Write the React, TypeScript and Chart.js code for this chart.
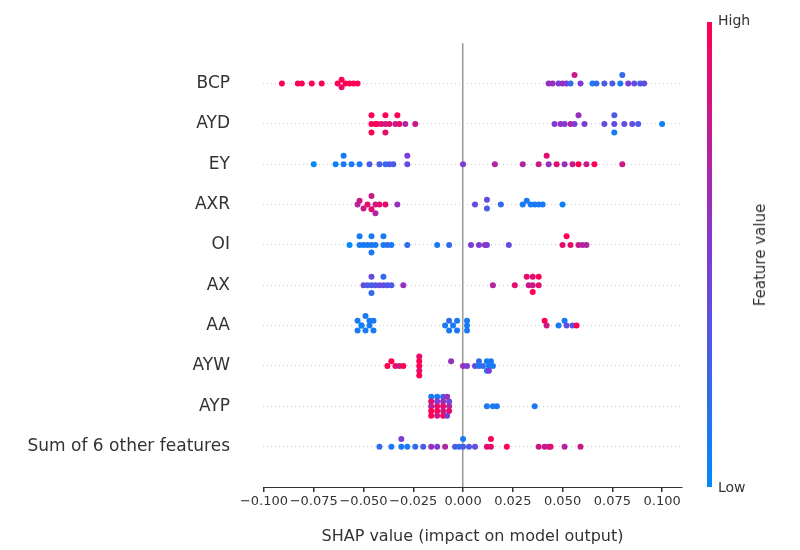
import React, { useEffect, useRef } from "react";
import { Chart, registerables } from "chart.js";

Chart.register(...registerables);

const features = ["BCP", "AYD", "EY", "AXR", "OI", "AX", "AA", "AYW", "AYP", "Sum of 6 other features"];

// each point: [shap value, feature value 0(low)..1(high), vertical offset in px]
const bcp = [
  [-0.091, 1, 0], [-0.083, 1, 0], [-0.081, 1, 0], [-0.076, 1, 0], [-0.071, 1, 0], [-0.063, 1, 0],
  [-0.061, 1, -4], [-0.059, 1, 0], [-0.057, 1, 0], [-0.055, 1, 0], [-0.053, 1, 0], [-0.061, 0.9, 4],
  [0.043, 0.6, 0], [0.045, 0.6, 0], [0.048, 0.5, 0], [0.05, 0.6, 0], [0.052, 0.5, 0], [0.054, 0.2, 0],
  [0.056, 0.8, -9], [0.059, 0.5, 0], [0.065, 0.1, 0], [0.067, 0.2, 0], [0.071, 0.3, 0], [0.075, 0.3, 0],
  [0.079, 0.1, 0], [0.08, 0.2, -9], [0.083, 0.5, 0], [0.086, 0.4, 0], [0.089, 0.3, 0], [0.091, 0.4, 0],
];
const ayd = [
  [-0.046, 1, 0], [-0.044, 0.9, 0], [-0.043, 1, 0], [-0.041, 0.9, 0], [-0.039, 0.8, 0], [-0.037, 0.9, 0],
  [-0.034, 0.8, 0], [-0.032, 0.9, 0], [-0.029, 0.7, 0], [-0.024, 0.8, 0], [-0.046, 1, -9], [-0.039, 1, -9],
  [-0.033, 1, -9], [-0.046, 1, 9], [-0.039, 0.9, 9],
  [0.046, 0.5, 0], [0.049, 0.6, 0], [0.051, 0.5, 0], [0.054, 0.7, 0], [0.056, 0.5, 0], [0.058, 0.6, -9],
  [0.061, 0.5, 0], [0.071, 0.4, 0], [0.076, 0.3, -9], [0.076, 0.1, 9], [0.076, 0.4, 0], [0.081, 0.4, 0],
  [0.085, 0.4, 0], [0.088, 0.3, 0], [0.1, 0.05, 0],
];
const ey = [
  [-0.075, 0, 0], [-0.064, 0.05, 0], [-0.06, 0.1, -9], [-0.06, 0.1, 0], [-0.056, 0.1, 0], [-0.052, 0.1, 0],
  [-0.047, 0.3, 0], [-0.042, 0.3, 0], [-0.039, 0.2, 0], [-0.037, 0.3, 0], [-0.035, 0.3, 0], [-0.028, 0.5, -9],
  [-0.028, 0.4, 0], [0.0, 0.5, 0], [0.016, 0.7, 0], [0.03, 0.7, 0], [0.038, 0.8, 0], [0.042, 0.9, -9],
  [0.043, 0.6, 0], [0.047, 0.9, 0], [0.051, 0.6, 0], [0.055, 0.8, 0], [0.058, 1, 0], [0.062, 0.8, 0],
  [0.066, 1, 0], [0.08, 0.8, 0],
];
const axr = [
  [-0.053, 0.7, 0], [-0.052, 0.8, -4], [-0.05, 0.8, 4], [-0.048, 0.9, 0], [-0.046, 0.8, -9], [-0.046, 0.9, 5],
  [-0.044, 0.8, 0], [-0.044, 0.7, 9], [-0.042, 0.9, 0], [-0.039, 0.9, 0], [-0.033, 0.6, 0],
  [0.006, 0.4, 0], [0.012, 0.4, -5], [0.012, 0.3, 4], [0.019, 0.2, 0], [0.03, 0.1, 0], [0.032, 0.1, -4],
  [0.034, 0.1, 0], [0.036, 0.1, 0], [0.038, 0.1, 0], [0.04, 0.1, 0], [0.05, 0.05, 0],
];
const oi = [
  [-0.057, 0, 0], [-0.052, 0.1, -9], [-0.052, 0.1, 0], [-0.05, 0.1, 0], [-0.048, 0.1, 0], [-0.046, 0.1, -9],
  [-0.046, 0.1, 8], [-0.046, 0.1, 0], [-0.044, 0.1, 0], [-0.04, 0.1, -9], [-0.04, 0.1, 0], [-0.038, 0.2, 0],
  [-0.036, 0.1, 0], [-0.028, 0.2, 0], [-0.013, 0.1, 0], [-0.007, 0.2, 0], [0.004, 0.5, 0], [0.008, 0.5, 0],
  [0.011, 0.6, 0], [0.012, 0.5, 0], [0.023, 0.4, 0], [0.05, 0.9, 0], [0.052, 1, -9], [0.054, 0.9, 0],
  [0.058, 0.8, 0], [0.06, 0.7, 0], [0.062, 0.7, 0],
];
const ax = [
  [-0.05, 0.4, 0], [-0.048, 0.3, 0], [-0.046, 0.4, -9], [-0.046, 0.3, 0], [-0.046, 0.2, 8], [-0.044, 0.3, 0],
  [-0.042, 0.4, 0], [-0.04, 0.4, 0], [-0.04, 0.2, -9], [-0.038, 0.3, 0], [-0.036, 0.3, 0], [-0.03, 0.6, 0],
  [0.015, 0.7, 0], [0.026, 0.9, 0], [0.032, 0.9, -9], [0.033, 0.8, 0], [0.035, 0.9, -9], [0.035, 0.8, 0],
  [0.035, 1, 7], [0.038, 0.9, 0], [0.038, 1, -9],
];
const aa = [
  [-0.053, 0.1, -5], [-0.051, 0.1, 0], [-0.053, 0.1, 5], [-0.049, 0.1, -10], [-0.049, 0.1, 5], [-0.047, 0.1, 0],
  [-0.047, 0.1, -5], [-0.045, 0.1, 5], [-0.045, 0.1, -5], [-0.051, 0.05, 0],
  [-0.009, 0.1, 0], [-0.007, 0.2, -5], [-0.007, 0.1, 5], [-0.005, 0.1, 0], [-0.003, 0.1, -5], [-0.003, 0.1, 5],
  [0.002, 0.1, -5], [0.002, 0.1, 5], [0.002, 0.1, 0],
  [0.041, 1, -5], [0.042, 0.8, 0], [0.048, 0.1, 0], [0.051, 0.1, -5], [0.052, 0.4, 0], [0.055, 0.3, 0],
  [0.057, 1, 0],
];
const ayw = [
  [-0.038, 1, 0], [-0.036, 1, -5], [-0.034, 0.9, 0], [-0.032, 0.8, 0], [-0.03, 1, 0], [-0.022, 0.9, -10],
  [-0.022, 1, -5], [-0.022, 1, 0], [-0.022, 0.9, 5], [-0.022, 1, 10], [-0.006, 0.6, -5], [0.0, 0.6, 0],
  [0.002, 0.5, 0], [0.006, 0.4, 0], [0.008, 0.2, -5], [0.008, 0.1, 0], [0.01, 0.2, 0], [0.012, 0.1, -5],
  [0.012, 0.1, 5], [0.013, 0.1, 0], [0.013, 0.5, 5], [0.014, 0.1, -5], [0.015, 0.1, 0],
];
const ayp = [
  [-0.016, 0.1, -10], [-0.016, 0.9, -5], [-0.016, 0.7, 0], [-0.016, 1, 5], [-0.016, 1, 10],
  [-0.013, 0.1, -10], [-0.013, 0.5, -5], [-0.013, 0.9, 0], [-0.013, 1, 5], [-0.013, 0.8, 10],
  [-0.01, 0.3, -10], [-0.01, 0.6, -5], [-0.01, 0.9, 0], [-0.01, 0.8, 5], [-0.01, 1, 10],
  [-0.007, 0.4, -5], [-0.007, 0.7, 0], [-0.007, 0.9, 5], [-0.008, 0.5, 10], [-0.008, 0.6, -10],
  [0.012, 0.1, 0], [0.015, 0.1, 0], [0.017, 0.1, 0], [0.036, 0.1, 0],
];
const sum6 = [
  [-0.042, 0.2, 0], [-0.036, 0.1, 0], [-0.031, 0.5, -8], [-0.031, 0.1, 0], [-0.028, 0.1, 0], [-0.024, 0.2, 0],
  [-0.02, 0.3, 0], [-0.016, 0.6, 0], [-0.013, 0.5, 0], [-0.009, 0.7, 0], [-0.004, 0.3, 0], [-0.002, 0.2, 0],
  [0.0, 0.1, -8], [0.0, 0.3, 0], [0.003, 0.3, 0], [0.006, 0.4, 0], [0.012, 0.9, 0], [0.014, 1, -8],
  [0.014, 0.9, 0], [0.022, 1, 0], [0.038, 0.8, 0], [0.041, 0.8, 0], [0.043, 0.7, 0], [0.044, 0.9, 0],
  [0.051, 0.7, 0], [0.059, 0.8, 0],
];
const rows = [bcp, ayd, ey, axr, oi, ax, aa, ayw, ayp, sum6];

const xTicks = [-0.1, -0.075, -0.05, -0.025, 0, 0.025, 0.05, 0.075, 0.1];

const rowPx = 42.3;

function colorFor(v: number) {
  // blue -> purple -> red
  const stops = [
    [0, 138, 250],
    [125, 60, 215],
    [255, 0, 82],
  ];
  const t = Math.max(0, Math.min(1, v)) * 2;
  const i = Math.min(1, Math.floor(t));
  const f = t - i;
  const a = stops[i], b = stops[i + 1];
  const c = a.map((x, k) => Math.round(x + (b[k] - x) * f));
  return `rgb(${c[0]},${c[1]},${c[2]})`;
}

const font = "'DejaVu Sans', sans-serif";

export default function App() {
  const canvasRef = useRef<HTMLCanvasElement>(null);
  const chartRef = useRef<Chart | null>(null);

  useEffect(() => {
    if (!canvasRef.current) return;
    const datasets = rows.map((pts, r) => ({
      data: pts.map((p) => ({ x: p[0], y: r + p[2] / rowPx })),
      pointBackgroundColor: pts.map((p) => colorFor(p[1])),
      pointBorderWidth: 0,
      pointRadius: 3,
      showLine: false,
    }));
    if (chartRef.current) chartRef.current.destroy();
    chartRef.current = new Chart(canvasRef.current, {
      type: "scatter",
      data: { datasets },
      options: {
        animation: false,
        responsive: false,
        layout: { padding: { top: 2, right: 118, left: 0, bottom: 0 } },
        plugins: { legend: { display: false }, tooltip: { enabled: false } },
        scales: {
          x: {
            min: -0.1005,
            max: 0.11,
            afterBuildTicks: (s: any) => {
              s.ticks = xTicks.map((v) => ({ value: v }));
            },
            afterFit: (s: any) => {
              s.height = 63;
            },
            grid: {
              color: (c: any) => (c.tick && c.tick.value === 0 ? "#999" : "rgba(0,0,0,0)"),
              lineWidth: 1.5,
              tickColor: "#333",
              tickLength: 5,
            },
            border: { display: true, color: "#333", width: 1 },
            ticks: {
              color: "#333",
              font: { family: font, size: 13 },
              padding: 2,
              maxRotation: 0,
              minRotation: 0,
              autoSkip: false,
              callback: (v: any) => (Number(v) < 0 ? "\u2212" : "") + Math.abs(Number(v)).toFixed(3),
            },
            title: {
              display: true,
              text: "SHAP value (impact on model output)",
              color: "#333",
              font: { family: font, size: 16 },
              padding: { top: 4 },
            },
          },
          y: {
            min: -1,
            max: 10,
            reverse: true,
            afterFit: (s: any) => {
              s.width = 263;
            },
            afterBuildTicks: (s: any) => {
              s.ticks = features.map((_, i) => ({ value: i }));
            },
            grid: {
              color: "#ccc",
              lineWidth: 1,
              drawTicks: false,
            },
            border: { display: false, dash: [1, 3] },
            ticks: {
              color: "#333",
              font: { family: font, size: 17 },
              padding: 33,
              callback: (v: any) => features[Number(v)] ?? "",
            },
          },
        },
      },
    });
    return () => {
      chartRef.current?.destroy();
      chartRef.current = null;
    };
  }, []);

  return (
    <div style={{ position: "absolute", left: 0, top: 0, width: 800, height: 550, background: "#fff", fontFamily: font }}>
      <canvas ref={canvasRef} width={800} height={550} style={{ position: "absolute", left: 0, top: 0 }} />
      <div
        style={{
          position: "absolute",
          left: 707,
          top: 22,
          width: 5,
          height: 465,
          background: "linear-gradient(to bottom, rgb(255,0,82), rgb(125,60,215), rgb(0,138,250))",
        }}
      />
      <div style={{ position: "absolute", left: 718, top: 12, fontSize: 14, color: "#333" }}>High</div>
      <div style={{ position: "absolute", left: 718, top: 479, fontSize: 14, color: "#333" }}>Low</div>
      <div
        style={{
          position: "absolute",
          left: 760,
          top: 255,
          fontSize: 15,
          color: "#333",
          whiteSpace: "nowrap",
          transform: "translate(-50%, -50%) rotate(-90deg)",
        }}
      >
        Feature value
      </div>
    </div>
  );
}
